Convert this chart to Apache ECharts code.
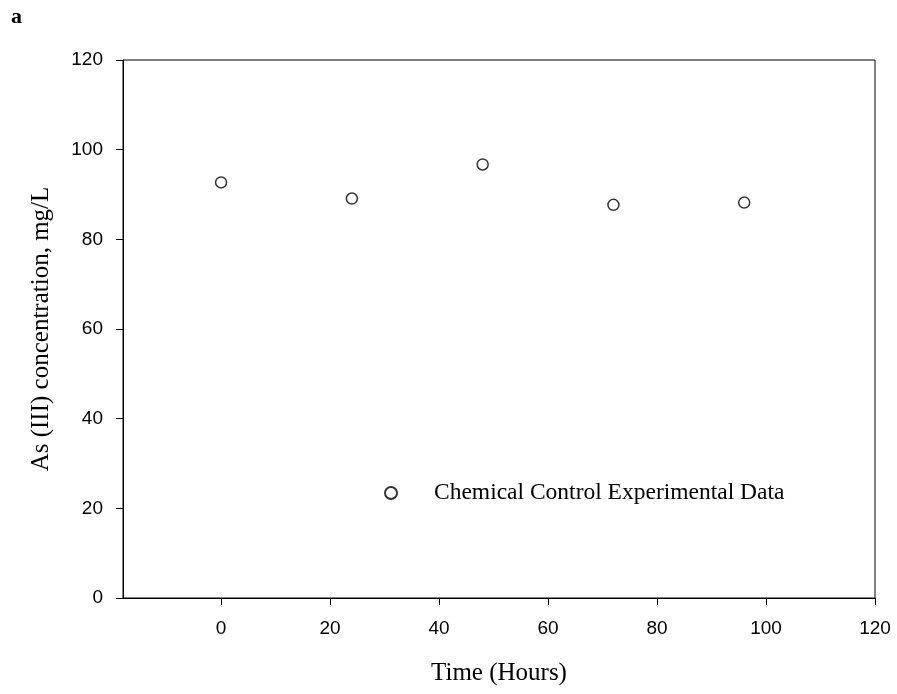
<!DOCTYPE html>
<html>
<head>
<meta charset="utf-8">
<script src="https://cdn.jsdelivr.net/npm/echarts@6/dist/echarts.min.js"></script>
<style>html,body{margin:0;padding:0;background:#fff}#c{width:897px;height:694px}</style>
</head>
<body>
<div id="c"></div>
<script>
var timeHours = [0, 24, 48, 72, 96];
var asConcentration = [92.7, 89.1, 96.7, 87.7, 88.2];
var xTicks = [0, 20, 40, 60, 80, 100, 120];
var yTicks = [0, 20, 40, 60, 80, 100, 120];
var seriesName = 'Chemical Control Experimental Data';

var chart = echarts.init(document.getElementById('c'), null, {renderer: 'canvas'});
var serif = '"Liberation Serif", "Times New Roman", serif';
var sans = '"Liberation Sans", Arial, sans-serif';
chart.setOption({
  animation: false,
  backgroundColor: '#fff',
  title: {
    text: 'a', left: 6, top: 1,
    textStyle: {fontFamily: serif, fontWeight: 'bold', fontSize: 22, color: '#000'}
  },
  grid: {left: 123, top: 60, right: 22, bottom: 96, show: true, borderColor: '#000', borderWidth: 1, backgroundColor: 'transparent'},
  legend: {
    left: 379, top: 476,
    itemWidth: 12, itemHeight: 12,
    data: [seriesName],
    textStyle: {fontFamily: serif, fontSize: 23.5, color: '#000', padding: [0, 0, 0, 32]}
  },
  xAxis: {
    type: 'value', min: -18, max: 120,
    name: 'Time (Hours)', nameLocation: 'middle', nameGap: 63,
    nameTextStyle: {fontFamily: serif, fontSize: 25, color: '#000'},
    axisLine: {show: true, onZero: false, lineStyle: {color: '#000', width: 1}},
    axisTick: {show: true, inside: false, length: 7, customValues: xTicks, lineStyle: {color: '#000'}},
    axisLabel: {fontFamily: sans, fontSize: 19, color: '#000', margin: 21, customValues: xTicks},
    splitLine: {show: false}
  },
  yAxis: {
    type: 'value', min: 0, max: 120, interval: 20,
    name: 'As (III) concentration, mg/L', nameLocation: 'middle', nameGap: 69,
    nameTextStyle: {fontFamily: serif, fontSize: 25, color: '#000'},
    axisLine: {show: true, onZero: false, lineStyle: {color: '#000', width: 1}},
    axisTick: {show: true, inside: false, length: 7, customValues: yTicks, lineStyle: {color: '#000'}},
    axisLabel: {fontFamily: sans, fontSize: 19, color: '#000', margin: 20, customValues: yTicks},
    splitLine: {show: false}
  },
  series: [{
    name: seriesName,
    type: 'scatter',
    symbol: 'circle',
    symbolSize: 11,
    itemStyle: {color: '#fff', borderColor: '#000', borderWidth: 1.5},
    data: timeHours.map(function (t, i) { return [t, asConcentration[i]]; })
  }]
});
</script>
</body>
</html>
